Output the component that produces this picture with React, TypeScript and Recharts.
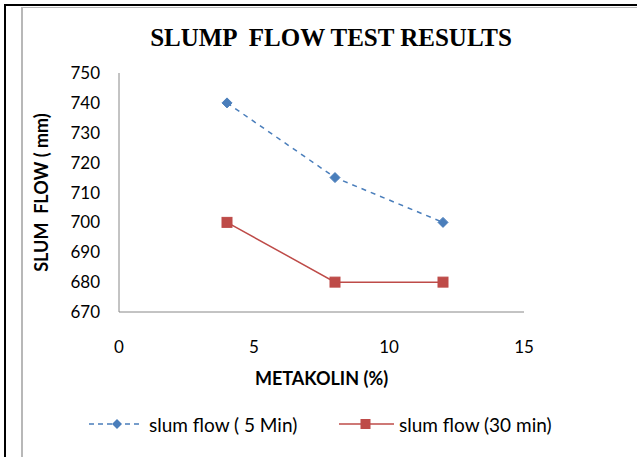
import React from 'react';
import { LineChart, Line, XAxis, YAxis, Legend, Label } from 'recharts';

const metakolin = [4, 8, 12];
const flow5min = [740, 715, 700];
const flow30min = [700, 680, 680];
const xTicks = [0, 5, 10, 15];
const yTicks = [670, 680, 690, 700, 710, 720, 730, 740, 750];

const data = metakolin.map((m, i) => ({ m, a: flow5min[i], b: flow30min[i] }));

const FONT = 'Lato, "Open Sans", sans-serif';

const Diamond = (props: any) => {
  const { cx, cy } = props;
  if (cx == null || cy == null) return null;
  const r = 5;
  return <path d={`M${cx},${cy - r}L${cx + r},${cy}L${cx},${cy + r}L${cx - r},${cy}Z`} fill="#4a7ebb" stroke="#4a7ebb" />;
};

const Square = (props: any) => {
  const { cx, cy } = props;
  if (cx == null || cy == null) return null;
  const r = 5;
  return <rect x={cx - r} y={cy - r} width={2 * r} height={2 * r} fill="#be4b48" stroke="#be4b48" />;
};

const LegendContent = (props: any) => {
  const { payload } = props;
  return (
    <div style={{ position: 'relative', height: 24, fontFamily: FONT, fontSize: 19, color: '#000' }}>
      {payload.map((p: any, i: number) => {
        const left = i === 0 ? 89 : 339;
        const w = i === 0 ? 50 : 55;
        return (
          <div key={i} style={{ position: 'absolute', left, top: 0, display: 'flex', alignItems: 'center', height: 24, whiteSpace: 'pre' }}>
            <svg width={w} height={12} style={{ marginRight: i === 0 ? 10 : 5 }}>
              <line x1={0} y1={6} x2={w} y2={6} stroke={p.color} strokeWidth={1.5} strokeDasharray={i === 0 ? '5 4' : undefined} />
              {i === 0 ? (
                <path d={`M${w / 2 + 3},1L${w / 2 + 8},6L${w / 2 + 3},11L${w / 2 - 2},6Z`} fill={p.color} />
              ) : (
                <rect x={w / 2 - 6} y={1} width={10} height={10} fill={p.color} />
              )}
            </svg>
            <span>{p.value}</span>
          </div>
        );
      })}
    </div>
  );
};

export default function App() {
  return (
    <div style={{ position: 'absolute', left: 0, top: 0, width: 637, height: 457, background: '#fff', overflow: 'hidden' }}>
      <div style={{ position: 'absolute', left: 4, top: 4, width: 700, height: 500, borderLeft: '2.5px solid #000', borderTop: '2.5px solid #000' }} />
      <div style={{ position: 'absolute', left: 21, top: 7, width: 700, height: 500, borderLeft: '2px solid #b8b8b8', borderTop: '1.5px solid #b8b8b8' }} />
      <div style={{ position: 'absolute', left: 0, top: 24, width: 662, textAlign: 'center', fontFamily: '"Liberation Serif", "Times New Roman", serif', fontWeight: 'bold', fontSize: 25, whiteSpace: 'pre', color: '#000' }}>
        {'SLUMP  FLOW TEST RESULTS'}
      </div>
      <LineChart width={637} height={457} data={data} margin={{ top: 73, right: 113, left: 59, bottom: 91 }} style={{ position: 'absolute', left: 0, top: 0 }}>
        <XAxis
          dataKey="m"
          type="number"
          domain={[0, 15]}
          ticks={xTicks}
          tickLine={false}
          tickSize={0}
          tickMargin={29}
          height={30}
          stroke="#888"
          tick={{ fill: '#000', fontSize: 17, fontFamily: FONT }}
        >
          <Label value="METAKOLIN (%)" position="bottom" offset={30} style={{ fontFamily: FONT, fontWeight: 'bold', fontSize: 18, fill: '#000' }} />
        </XAxis>
        <YAxis
          type="number"
          domain={[670, 750]}
          ticks={yTicks}
          tickLine={false}
          tickSize={0}
          tickMargin={19}
          width={60}
          stroke="#888"
          tick={{ fill: '#000', fontSize: 17, fontFamily: FONT }}
        >
          <Label value={'SLUM\u00A0 FLOW ( mm)'} angle={-90} position="left" offset={17} style={{ fontFamily: FONT, fontWeight: 'bold', fontSize: 18, fill: '#000', textAnchor: 'middle' }} />
        </YAxis>
        <Legend content={<LegendContent />} verticalAlign="bottom" wrapperStyle={{ left: 0, top: 412, width: 637 }} />
        <Line name="slum flow ( 5 Min)" dataKey="a" stroke="#4a7ebb" strokeWidth={1.5} strokeDasharray="5 5" dot={<Diamond />} activeDot={false} isAnimationActive={false} />
        <Line name="slum flow (30 min)" dataKey="b" stroke="#be4b48" strokeWidth={1.5} dot={<Square />} activeDot={false} isAnimationActive={false} />
      </LineChart>
    </div>
  );
}
